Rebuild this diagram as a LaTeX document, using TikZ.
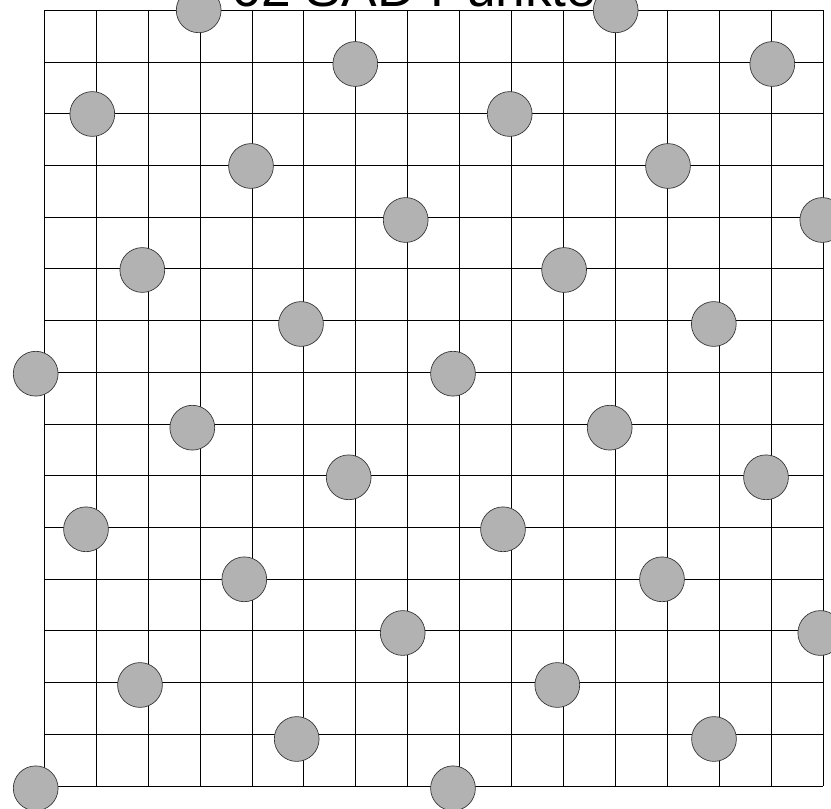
\documentclass[tikz,border=0pt]{standalone}
\usepackage{fontspec}
\setmainfont{Liberation Sans}
\tikzset{
  gridline/.style={line width=0.75pt, black},
  dot/.style={circle, draw=black!80, line width=0.5pt, fill=black!30, minimum size=33.6pt, inner sep=0pt},
  titletext/.style={anchor=base, inner sep=0pt, font=\fontsize{40}{40}\selectfont}
}
\begin{document}
\begin{tikzpicture}[x=0.75pt,y=-0.75pt]
\useasboundingbox (0,0) rectangle (831,809);
\fill[white] (0,0) rectangle (831,809);
% grid
\foreach \k in {0,...,15} {
  \draw[gridline] ({44.3+\k*51.933},10.3) -- ({44.3+\k*51.933},786);
  \draw[gridline] (44.3,{10.3+\k*51.713}) -- (823.3,{10.3+\k*51.713});
}
% title
\node[titletext] (title) at (414.2,7) {62 SAD Punkte};
% points
\foreach \x/\y [count=\i] in {
  198.7/10.3, 615.7/10.3,
  355.3/64, 772.3/64,
  92.3/114, 509.7/114,
  251/166, 668/166,
  405.7/220, 822.3/220,
  142.3/270, 564.1/270,
  301/324, 713.8/324,
  35.7/373.7, 453/373.7,
  192.3/427.7, 609.7/427.7,
  348.7/477.3, 766/477.3,
  86/529.3, 503/529.3,
  244.3/579.3, 662/579.3,
  402.7/633, 820.3/633,
  140/685, 557.3/685,
  296.7/739, 714/739,
  35.7/788.3, 453/788.3} {
  \node[dot] (c\i) at (\x,\y) {};
}
\end{tikzpicture}
\end{document}
